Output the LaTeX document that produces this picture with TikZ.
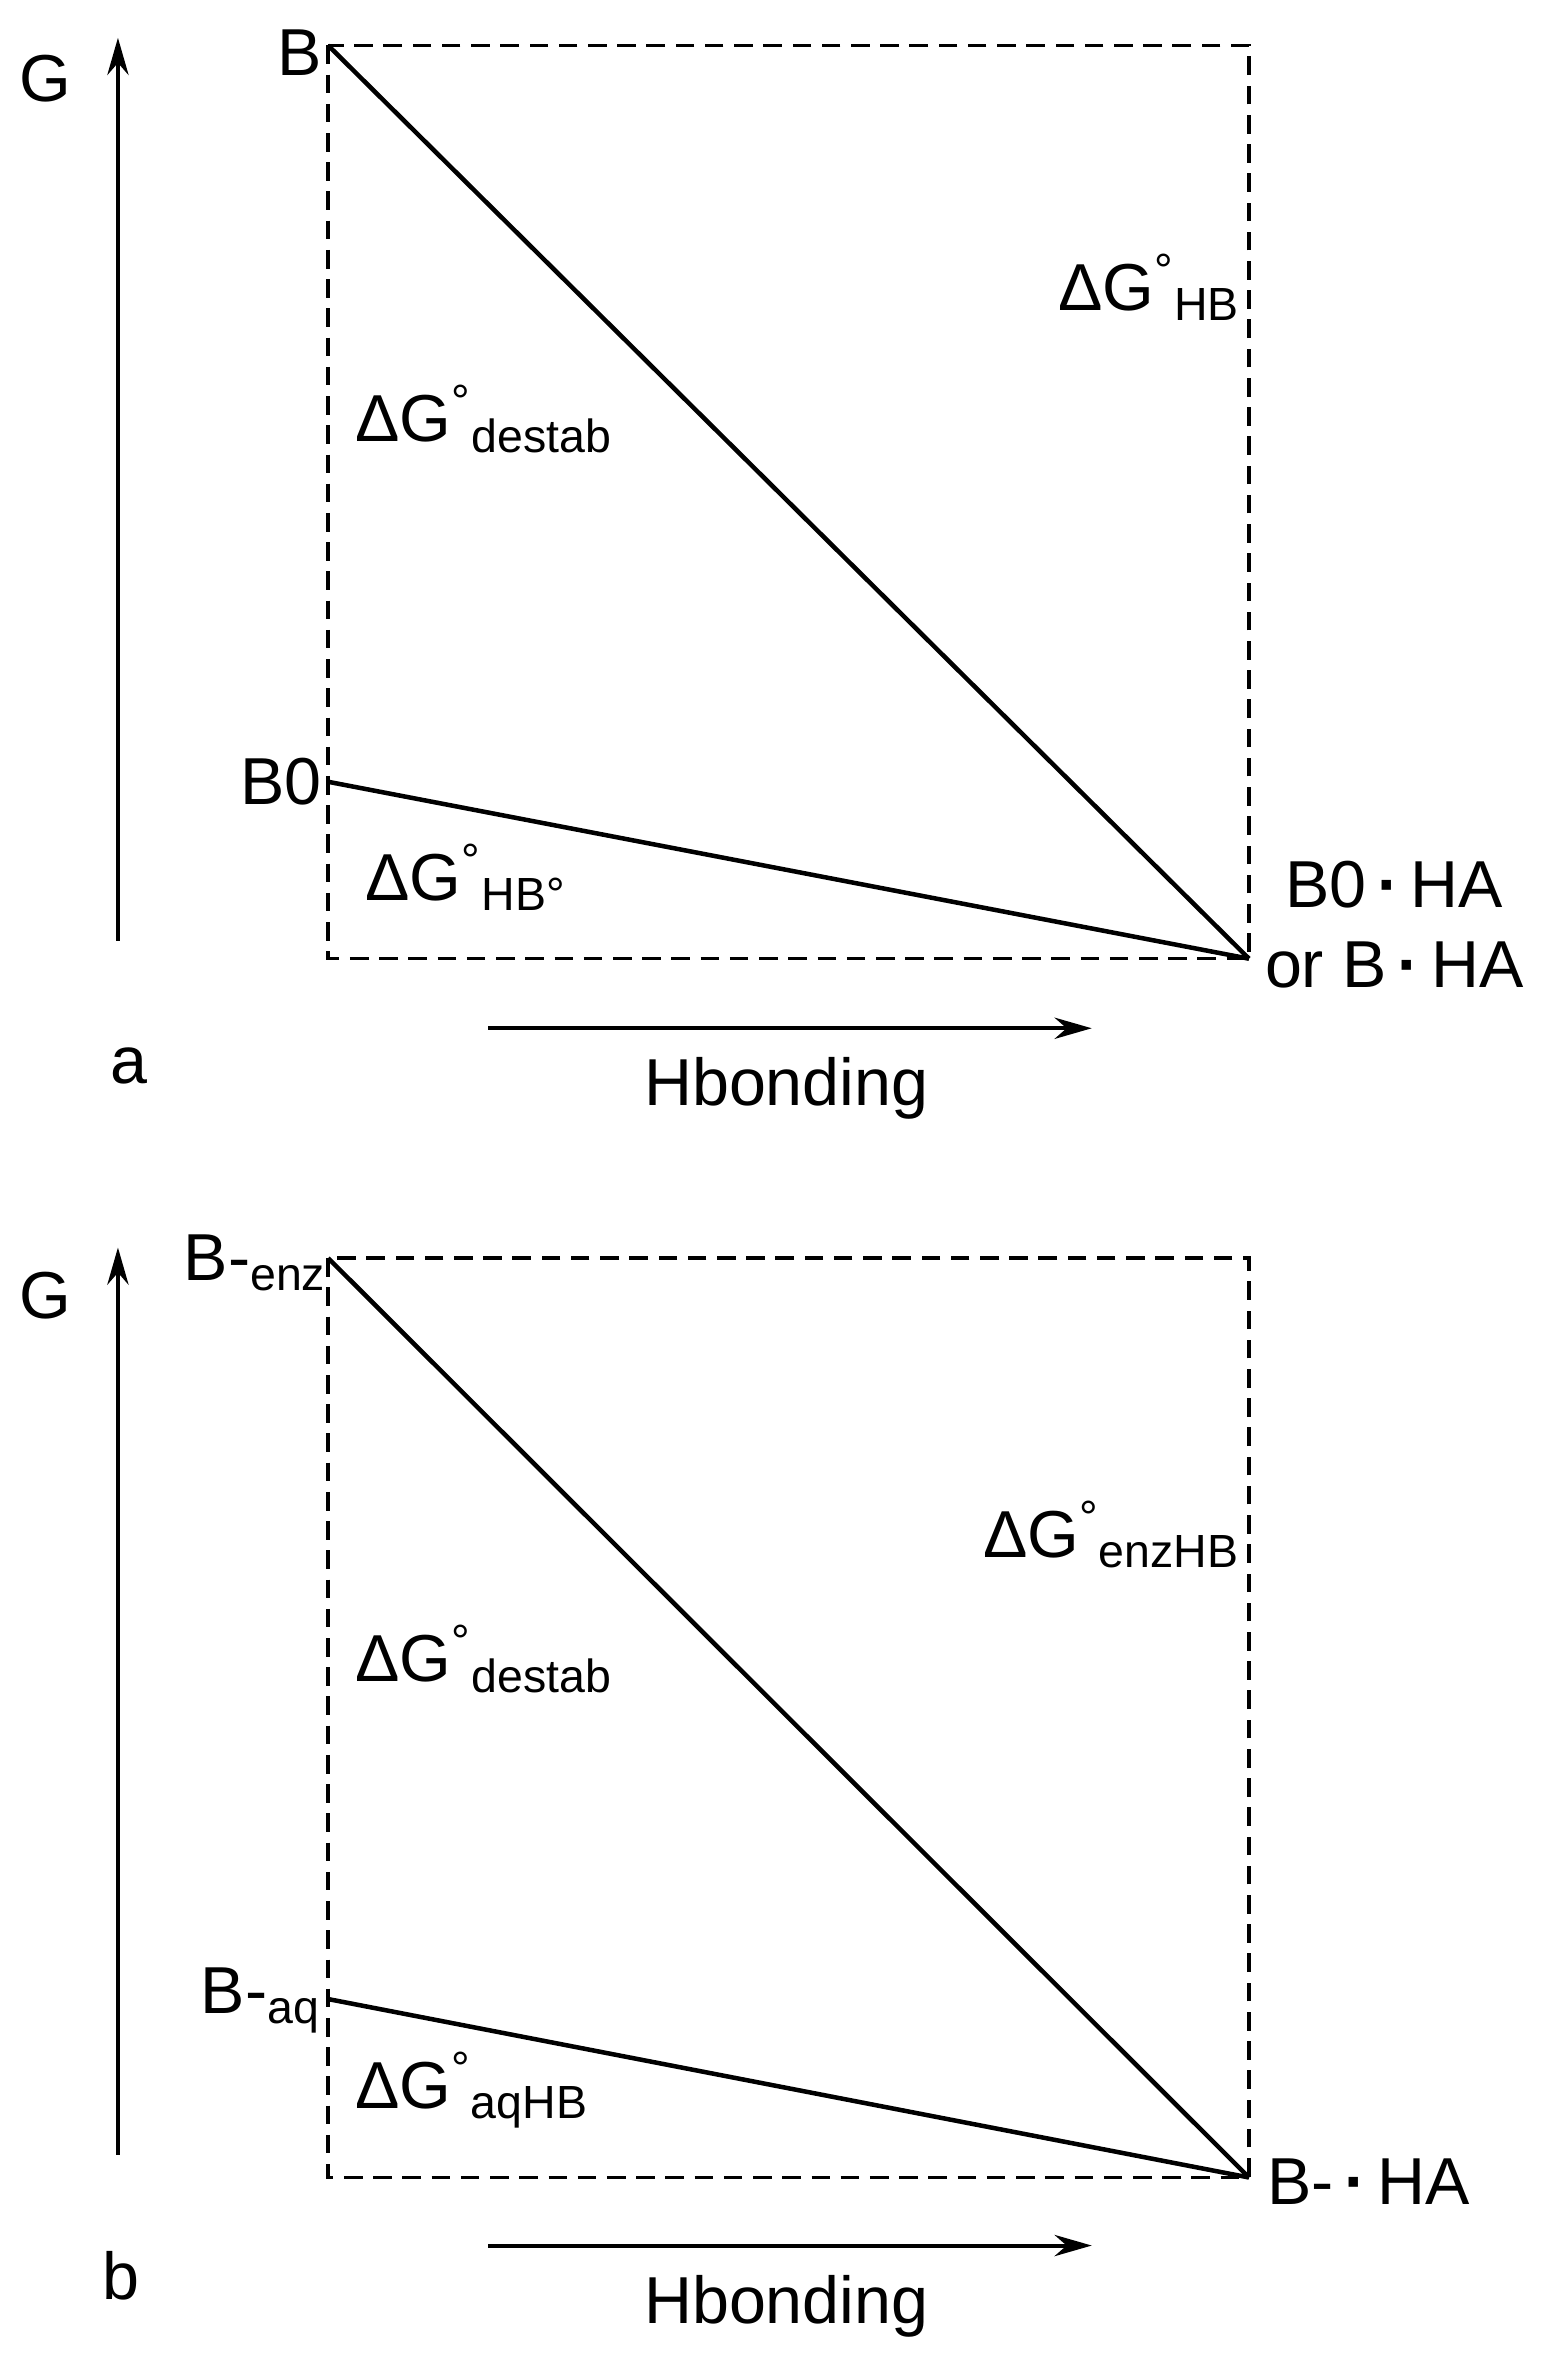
\documentclass[tikz,border=0pt]{standalone}
\usepackage{fontspec}
\setmainfont{Liberation Sans}
\usetikzlibrary{arrows.meta}
\newcommand{\dG}[1]{ΔG\textsuperscript{°}\textsubscript{#1}}
\newcommand{\hdot}{\,\textbf{·}\,}
\begin{document}
\begin{tikzpicture}[
    x=0.02cm, y=-0.02cm,
    every node/.style={inner sep=1pt, font=\fontsize{25}{29}\selectfont},
    frame/.style={draw, dash pattern=on 7pt off 4pt, line width=1.3pt},
    curve/.style={draw, line width=1.7pt},
    axis/.style={draw, line width=1.5pt, -{Stealth[length=14pt,width=8pt]}}
]
\useasboundingbox (0,0) rectangle (1024,1566);
% panel a
\coordinate (ga0) at (78,622);
\coordinate (ga1) at (78,25);
\draw[axis] (ga0) -- (ga1);
\node (Ga) at (30,52) {G};
\coordinate (tla) at (217,30);
\coordinate (bra) at (826,634);
\draw[frame] (tla) rectangle (bra);
\coordinate (b0a) at (217,517);
\node[anchor=east] (Ba) at (215,35) {B};
\node[anchor=east] (B0a) at (215,517) {B0};
\draw[curve] (tla) -- (bra);
\draw[curve] (b0a) -- (bra);
\node (dsa) at (320,277) {\dG{destab}};
\node (hba) at (760,190) {\dG{HB}};
\node (hb0a) at (308,580) {\dG{HB°}};
\node (pa1) at (922,585) {B0\hdot HA};
\node (pa2) at (922,638) {or B\hdot HA};
\node (la) at (85,705) {a};
\coordinate (ha0) at (323,680);
\coordinate (ha1) at (722,680);
\draw[axis] (ha0) -- (ha1);
\node (hta) at (520,720) {Hbonding};
% panel b
\coordinate (gb0) at (78,1425);
\coordinate (gb1) at (78,825);
\draw[axis] (gb0) -- (gb1);
\node (Gb) at (30,857) {G};
\coordinate (tlb) at (217,832);
\coordinate (brb) at (826,1440);
\draw[frame] (tlb) rectangle (brb);
\coordinate (b0b) at (217,1322);
\node[anchor=east] (Bb) at (218,835) {B-\textsubscript{enz}};
\node[anchor=east] (B0b) at (214,1323) {B-\textsubscript{aq}};
\draw[curve] (tlb) -- (brb);
\draw[curve] (b0b) -- (brb);
\node (dsb) at (320,1097) {\dG{destab}};
\node (hbb) at (735,1015) {\dG{enzHB}};
\node (hb0b) at (312,1382) {\dG{aqHB}};
\node (pb) at (905,1443) {B-\hdot HA};
\node (lb) at (80,1505) {b};
\coordinate (hb0) at (323,1485);
\coordinate (hb1) at (722,1485);
\draw[axis] (hb0) -- (hb1);
\node (htb) at (520,1525) {Hbonding};
\end{tikzpicture}
\end{document}
